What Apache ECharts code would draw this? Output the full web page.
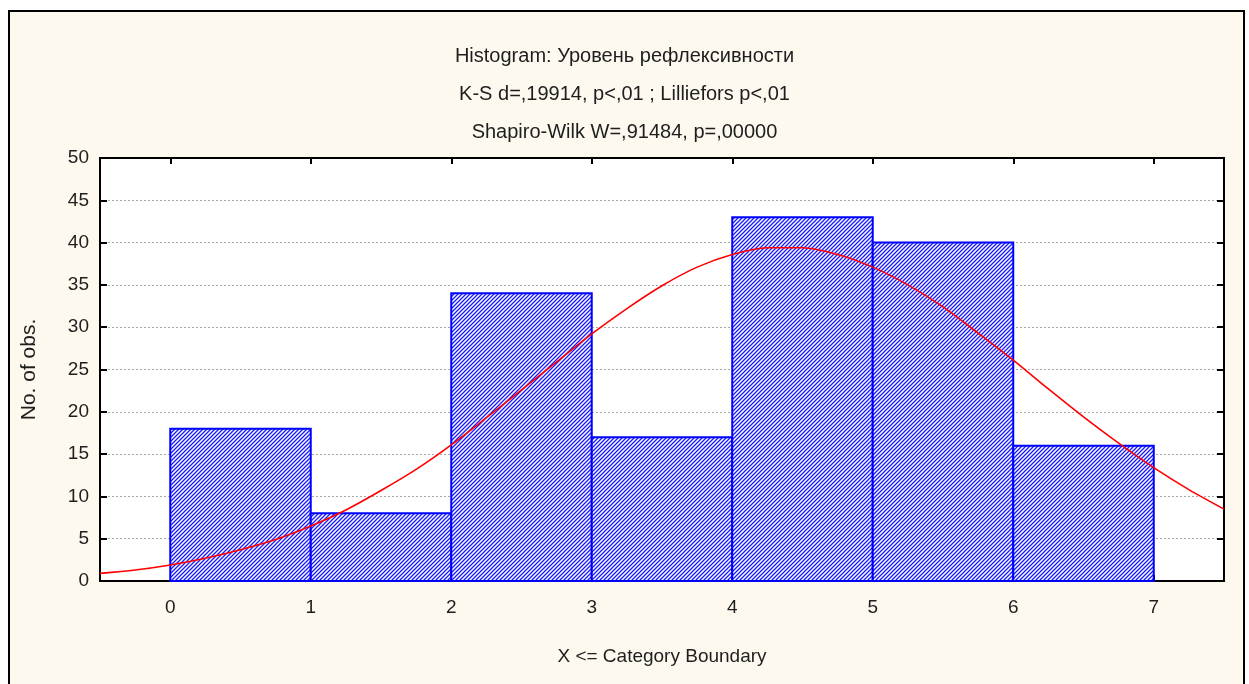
<!DOCTYPE html>
<html>
<head>
<meta charset="utf-8">
<script src="https://cdn.jsdelivr.net/npm/echarts@6/dist/echarts.min.js"></script>
<style>
    html,body{margin:0;padding:0;background:#fff;overflow:hidden;}
    #frame{position:absolute;left:8px;top:10px;width:1233px;height:700px;border:2px solid #000;background:#fdf9ef;}
    #chart{position:absolute;left:0;top:0;width:1249px;height:684px;}
</style>
</head>
<body>
<div id="frame"></div>
<div id="chart"></div>
<script>
//---границы интервалов и число наблюдений
var binStart = [0, 1, 2, 3, 4, 5, 6];
var binEnd = [1, 2, 3, 4, 5, 6, 7];
var binCount = [18, 8, 34, 17, 43, 40, 16];

//---ожидаемая нормальная кривая (шаг 0.25)
var curveX = [-0.5, -0.25, 0, 0.25, 0.5, 0.75, 1, 1.25, 1.5, 1.75, 2, 2.25, 2.5, 2.75, 3, 3.25, 3.5, 3.75,
              4, 4.25, 4.5, 4.75, 5, 5.25, 5.5, 5.75, 6, 6.25, 6.5, 6.75, 7, 7.25, 7.5];
var curveY = [0.9, 1.3, 1.9, 2.7, 3.7, 4.9, 6.5, 8.4, 10.7, 13.2, 16.1, 19.3, 22.6, 25.9, 29.2, 32.2, 34.9, 37.1,
              38.6, 39.4, 39.4, 38.6, 37.1, 35.0, 32.4, 29.3, 26.1, 22.7, 19.4, 16.3, 13.4, 10.8, 8.5];

var xTicks = [0, 1, 2, 3, 4, 5, 6, 7];

var titleLines = [
    'Histogram: Уровень рефлексивности',
    'K-S d=,19914, p<,01 ; Lilliefors p<,01',
    'Shapiro-Wilk W=,91484, p=,00000'
];

//---штриховка столбцов
function makeHatch(){
    var c = document.createElement('canvas');
    var s = 4;
    c.width = s; c.height = s;
    var ctx = c.getContext('2d');
    ctx.fillStyle = '#fff';
    ctx.fillRect(0, 0, s, s);
    ctx.strokeStyle = '#1a1aff';
    ctx.lineWidth = 1.3;
    ctx.beginPath();
    ctx.moveTo(-1, s + 1); ctx.lineTo(s + 1, -1);
    ctx.moveTo(-1, 1); ctx.lineTo(1, -1);
    ctx.moveTo(s - 1, s + 1); ctx.lineTo(s + 1, s - 1);
    ctx.stroke();
    return c;
}
var hatch = makeHatch();

var barData = [];
for(var i = 0; i < binCount.length; i++){
    barData.push([binStart[i], binEnd[i], binCount[i]]);
}
var curveData = [];
for(var j = 0; j < curveX.length; j++){
    curveData.push([curveX[j], curveY[j]]);
}

var font = 'Liberation Sans, Arial, sans-serif';
var txt = '#1e1e1e';
var axisLine = {show: true, onZero: false, lineStyle: {color: '#000', width: 2}};

var myChart = echarts.init(document.getElementById('chart'));
var option = {
    backgroundColor: 'transparent',
    animation: false,
    title: {
        text: titleLines.join('\n'),
        left: 'center',
        top: 32,
        textStyle: {
            fontFamily: font,
            fontSize: 20,
            fontWeight: 'normal',
            color: txt,
            lineHeight: 38
        }
    },
    grid: {
        left: 100,
        top: 158,
        width: 1124,
        height: 423,
        show: true,
        backgroundColor: '#fff',
        borderColor: '#000',
        borderWidth: 2
    },
    xAxis: [{
        type: 'value',
        min: -0.5,
        max: 7.5,
        position: 'bottom',
        name: 'X <= Category Boundary',
        nameLocation: 'middle',
        nameGap: 66,
        nameTextStyle: {fontFamily: font, fontSize: 19, color: txt, verticalAlign: 'top'},
        axisLine: axisLine,
        axisTick: {show: true, inside: true, length: 6, customValues: xTicks, lineStyle: {color: '#000', width: 2}},
        axisLabel: {customValues: xTicks, margin: 17, fontFamily: font, fontSize: 19, color: txt},
        splitLine: {show: false}
    }, {
        type: 'value',
        min: -0.5,
        max: 7.5,
        position: 'top',
        axisLine: axisLine,
        axisTick: {show: true, inside: true, length: 6, customValues: xTicks, lineStyle: {color: '#000', width: 2}},
        axisLabel: {show: false},
        splitLine: {show: false}
    }],
    yAxis: [{
        type: 'value',
        min: 0,
        max: 50,
        interval: 5,
        position: 'left',
        name: 'No. of obs.',
        nameLocation: 'middle',
        nameGap: 60,
        nameTextStyle: {fontFamily: font, fontSize: 21, color: txt},
        axisLine: axisLine,
        axisTick: {show: true, inside: true, length: 7, lineStyle: {color: '#000', width: 2}},
        axisLabel: {margin: 11, fontFamily: font, fontSize: 19, color: txt},
        splitLine: {show: true, lineStyle: {color: '#a8a8a8', width: 1, type: [2, 2]}}
    }, {
        type: 'value',
        min: 0,
        max: 50,
        interval: 5,
        position: 'right',
        axisLine: axisLine,
        axisTick: {show: true, inside: true, length: 7, lineStyle: {color: '#000', width: 2}},
        axisLabel: {show: false},
        splitLine: {show: false}
    }],
    series: [{
        //---столбцы гистограммы
        type: 'custom',
        xAxisIndex: 0,
        yAxisIndex: 0,
        data: barData,
        z: 2,
        renderItem: function(params, api){
            var p0 = api.coord([api.value(0), api.value(2)]);
            var p1 = api.coord([api.value(1), 0]);
            return {
                type: 'rect',
                shape: {x: p0[0], y: p0[1], width: p1[0] - p0[0], height: p1[1] - p0[1]},
                style: {fill: {image: hatch, repeat: 'repeat'}, stroke: '#0000ff', lineWidth: 2}
            };
        }
    }, {
        //---нормальная кривая
        type: 'line',
        xAxisIndex: 0,
        yAxisIndex: 0,
        data: curveData,
        smooth: 0.3,
        showSymbol: false,
        clip: true,
        z: 3,
        lineStyle: {color: '#ff0000', width: 1.6}
    }]
};
myChart.setOption(option);
</script>
</body>
</html>
